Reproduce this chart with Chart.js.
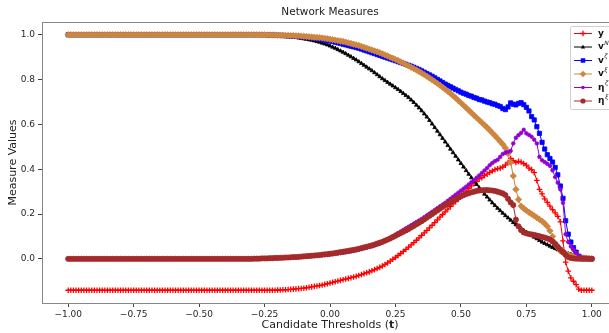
<!DOCTYPE html>
<html>
<head>
<meta charset="utf-8">
<script src="https://cdn.jsdelivr.net/npm/chart.js@4.4.1/dist/chart.umd.min.js"></script>
<style>
  html, body { margin: 0; padding: 0; background: #fff; overflow: hidden; }
  #wrap { width: 630px; height: 333px; }
</style>
</head>
<body>
<div id="wrap"><canvas id="IDCHART" width="630" height="333"></canvas></div>
<script>
// candidate thresholds t
var thresholds = [
  -1.00,-0.99,-0.98,-0.97,-0.96,-0.95,-0.94,-0.93,-0.92,-0.91,
  -0.90,-0.89,-0.88,-0.87,-0.86,-0.85,-0.84,-0.83,-0.82,-0.81,
  -0.80,-0.79,-0.78,-0.77,-0.76,-0.75,-0.74,-0.73,-0.72,-0.71,
  -0.70,-0.69,-0.68,-0.67,-0.66,-0.65,-0.64,-0.63,-0.62,-0.61,
  -0.60,-0.59,-0.58,-0.57,-0.56,-0.55,-0.54,-0.53,-0.52,-0.51,
  -0.50,-0.49,-0.48,-0.47,-0.46,-0.45,-0.44,-0.43,-0.42,-0.41,
  -0.40,-0.39,-0.38,-0.37,-0.36,-0.35,-0.34,-0.33,-0.32,-0.31,
  -0.30,-0.29,-0.28,-0.27,-0.26,-0.25,-0.24,-0.23,-0.22,-0.21,
  -0.20,-0.19,-0.18,-0.17,-0.16,-0.15,-0.14,-0.13,-0.12,-0.11,
  -0.10,-0.09,-0.08,-0.07,-0.06,-0.05,-0.04,-0.03,-0.02,-0.01,
  0.00,0.01,0.02,0.03,0.04,0.05,0.06,0.07,0.08,0.09,
  0.10,0.11,0.12,0.13,0.14,0.15,0.16,0.17,0.18,0.19,
  0.20,0.21,0.22,0.23,0.24,0.25,0.26,0.27,0.28,0.29,
  0.30,0.31,0.32,0.33,0.34,0.35,0.36,0.37,0.38,0.39,
  0.40,0.41,0.42,0.43,0.44,0.45,0.46,0.47,0.48,0.49,
  0.50,0.51,0.52,0.53,0.54,0.55,0.56,0.57,0.58,0.59,
  0.60,0.61,0.62,0.63,0.64,0.65,0.66,0.67,0.68,0.69,
  0.70,0.71,0.72,0.73,0.74,0.75,0.76,0.77,0.78,0.79,
  0.80,0.81,0.82,0.83,0.84,0.85,0.86,0.87,0.88,0.89,
  0.90,0.91,0.92,0.93,0.94,0.95,0.96,0.97,0.98,0.99,
  1.00
];

var y_vals = [
  -0.14,-0.14,-0.14,-0.14,-0.14,-0.14,-0.14,-0.14,-0.14,-0.14,
  -0.14,-0.14,-0.14,-0.14,-0.14,-0.14,-0.14,-0.14,-0.14,-0.14,
  -0.14,-0.14,-0.14,-0.14,-0.14,-0.14,-0.14,-0.14,-0.14,-0.14,
  -0.14,-0.14,-0.14,-0.14,-0.14,-0.14,-0.14,-0.14,-0.14,-0.14,
  -0.14,-0.14,-0.14,-0.14,-0.14,-0.14,-0.14,-0.14,-0.14,-0.14,
  -0.14,-0.14,-0.14,-0.14,-0.14,-0.14,-0.14,-0.14,-0.14,-0.14,
  -0.14,-0.14,-0.14,-0.14,-0.14,-0.14,-0.14,-0.14,-0.14,-0.14,
  -0.14,-0.14,-0.14,-0.14,-0.14,-0.14,-0.14,-0.14,-0.14,-0.14,
  -0.139,-0.139,-0.138,-0.138,-0.137,-0.136,-0.135,-0.134,-0.133,-0.132,
  -0.131,-0.129,-0.127,-0.125,-0.123,-0.121,-0.119,-0.117,-0.114,-0.111,
  -0.108,-0.105,-0.102,-0.099,-0.096,-0.093,-0.090,-0.087,-0.084,-0.081,
  -0.078,-0.074,-0.070,-0.066,-0.062,-0.058,-0.053,-0.048,-0.043,-0.038,
  -0.032,-0.025,-0.018,-0.010,-0.002,0.006,0.015,0.024,0.033,0.042,
  0.052,0.062,0.072,0.083,0.094,0.105,0.116,0.127,0.138,0.150,
  0.162,0.174,0.186,0.198,0.210,0.222,0.234,0.245,0.256,0.266,
  0.280,0.292,0.302,0.315,0.326,0.337,0.345,0.357,0.362,0.372,
  0.378,0.386,0.392,0.398,0.402,0.405,0.410,0.418,0.430,0.448,
  0.438,0.430,0.435,0.432,0.425,0.418,0.405,0.398,0.385,0.350,
  0.310,0.290,0.268,0.252,0.235,0.220,0.205,0.190,0.165,0.080,
  -0.015,-0.055,-0.085,-0.100,-0.115,-0.135,-0.140,-0.140,-0.140,-0.140,
  -0.140
];

var vN_vals = [
  1,1,1,1,1,1,1,1,1,1,
  1,1,1,1,1,1,1,1,1,1,
  1,1,1,1,1,1,1,1,1,1,
  1,1,1,1,1,1,1,1,1,1,
  1,1,1,1,1,1,1,1,1,1,
  1,1,1,1,1,1,1,1,1,1,
  1,1,1,1,1,1,1,1,1,1,
  0.999,0.999,0.999,0.998,0.998,0.998,0.997,0.997,0.996,0.996,
  0.995,0.994,0.993,0.992,0.991,0.990,0.989,0.988,0.986,0.984,
  0.982,0.980,0.978,0.976,0.973,0.970,0.967,0.963,0.959,0.955,
  0.950,0.945,0.940,0.934,0.928,0.922,0.916,0.909,0.902,0.895,
  0.888,0.880,0.872,0.864,0.856,0.848,0.840,0.831,0.822,0.813,
  0.804,0.796,0.788,0.780,0.772,0.764,0.756,0.747,0.738,0.729,
  0.720,0.709,0.698,0.686,0.674,0.661,0.647,0.633,0.618,0.602,
  0.586,0.570,0.554,0.538,0.522,0.506,0.490,0.474,0.458,0.442,
  0.426,0.410,0.394,0.378,0.362,0.347,0.332,0.317,0.303,0.289,
  0.276,0.263,0.250,0.238,0.226,0.215,0.204,0.193,0.183,0.173,
  0.162,0.153,0.144,0.135,0.127,0.119,0.111,0.104,0.097,0.090,
  0.082,0.075,0.069,0.063,0.057,0.051,0.046,0.041,0.036,0.032,
  0.028,0.024,0.021,0.018,0.015,0.012,0.009,0.007,0.005,0.003,
  0.000
];

var vZeta_vals = [
  1,1,1,1,1,1,1,1,1,1,
  1,1,1,1,1,1,1,1,1,1,
  1,1,1,1,1,1,1,1,1,1,
  1,1,1,1,1,1,1,1,1,1,
  1,1,1,1,1,1,1,1,1,1,
  1,1,1,1,1,1,1,1,1,1,
  1,1,1,1,1,1,1,1,1,1,
  1,1,1,1,1,1,0.999,0.999,0.999,0.998,
  0.998,0.997,0.997,0.996,0.995,0.995,0.994,0.993,0.992,0.991,
  0.990,0.989,0.987,0.986,0.984,0.982,0.980,0.978,0.976,0.974,
  0.972,0.970,0.967,0.964,0.961,0.958,0.955,0.952,0.949,0.946,
  0.943,0.940,0.936,0.932,0.928,0.924,0.920,0.916,0.912,0.908,
  0.904,0.900,0.896,0.892,0.888,0.884,0.880,0.876,0.872,0.868,
  0.864,0.860,0.855,0.850,0.845,0.839,0.833,0.827,0.821,0.815,
  0.808,0.801,0.794,0.787,0.780,0.774,0.768,0.762,0.756,0.750,
  0.744,0.739,0.735,0.729,0.726,0.720,0.717,0.711,0.709,0.704,
  0.700,0.697,0.692,0.690,0.684,0.680,0.671,0.666,0.678,0.696,
  0.690,0.687,0.694,0.697,0.688,0.676,0.660,0.635,0.620,0.590,
  0.560,0.520,0.490,0.465,0.448,0.432,0.408,0.375,0.325,0.270,
  0.170,0.110,0.075,0.050,0.030,0.012,0.006,0.003,0.002,0.001,
  0.000
];

var vXi_vals = [
  1,1,1,1,1,1,1,1,1,1,
  1,1,1,1,1,1,1,1,1,1,
  1,1,1,1,1,1,1,1,1,1,
  1,1,1,1,1,1,1,1,1,1,
  1,1,1,1,1,1,1,1,1,1,
  1,1,1,1,1,1,1,1,1,1,
  1,1,1,1,1,1,1,1,1,1,
  1,1,1,1,1,1,0.999,0.999,0.999,0.999,
  0.998,0.998,0.998,0.997,0.997,0.996,0.996,0.995,0.995,0.994,
  0.993,0.992,0.991,0.990,0.989,0.988,0.987,0.986,0.984,0.982,
  0.980,0.978,0.976,0.974,0.972,0.970,0.967,0.964,0.961,0.958,
  0.955,0.952,0.948,0.944,0.940,0.936,0.932,0.928,0.924,0.920,
  0.915,0.910,0.905,0.900,0.895,0.890,0.885,0.879,0.873,0.867,
  0.861,0.855,0.849,0.843,0.836,0.829,0.822,0.815,0.807,0.799,
  0.791,0.783,0.775,0.766,0.757,0.748,0.738,0.728,0.718,0.707,
  0.696,0.685,0.674,0.663,0.652,0.641,0.630,0.619,0.608,0.597,
  0.586,0.574,0.562,0.550,0.537,0.524,0.511,0.495,0.470,0.430,
  0.370,0.310,0.265,0.235,0.225,0.216,0.208,0.200,0.192,0.184,
  0.176,0.168,0.158,0.145,0.125,0.100,0.070,0.050,0.035,0.027,
  0.022,0.018,0.014,0.011,0.009,0.007,0.005,0.004,0.003,0.002,
  0.001
];

var etaZeta_vals = [
  0,0,0,0,0,0,0,0,0,0,
  0,0,0,0,0,0,0,0,0,0,
  0,0,0,0,0,0,0,0,0,0,
  0,0,0,0,0,0,0,0,0,0,
  0,0,0,0,0,0,0,0,0,0,
  0,0,0,0,0,0,0,0,0,0,
  0,0,0,0,0,0,0,0,0,0,
  0.000,0.000,0.001,0.001,0.001,0.001,0.002,0.002,0.002,0.003,
  0.003,0.003,0.004,0.004,0.005,0.005,0.006,0.006,0.007,0.008,
  0.009,0.010,0.011,0.012,0.013,0.014,0.015,0.016,0.017,0.018,
  0.020,0.021,0.023,0.024,0.026,0.027,0.029,0.031,0.033,0.035,
  0.038,0.041,0.044,0.047,0.050,0.053,0.056,0.060,0.064,0.068,
  0.074,0.080,0.087,0.094,0.101,0.108,0.115,0.122,0.129,0.136,
  0.143,0.150,0.157,0.164,0.171,0.178,0.186,0.194,0.202,0.210,
  0.218,0.226,0.234,0.242,0.250,0.259,0.268,0.277,0.286,0.295,
  0.304,0.313,0.322,0.332,0.342,0.352,0.362,0.372,0.383,0.394,
  0.405,0.418,0.428,0.436,0.442,0.455,0.468,0.474,0.478,0.482,
  0.515,0.540,0.552,0.562,0.576,0.560,0.553,0.545,0.532,0.515,
  0.455,0.440,0.432,0.424,0.415,0.395,0.365,0.340,0.310,0.250,
  0.110,0.075,0.055,0.040,0.027,0.012,0.006,0.003,0.002,0.001,
  0.000
];

var etaXi_vals = [
  0,0,0,0,0,0,0,0,0,0,
  0,0,0,0,0,0,0,0,0,0,
  0,0,0,0,0,0,0,0,0,0,
  0,0,0,0,0,0,0,0,0,0,
  0,0,0,0,0,0,0,0,0,0,
  0,0,0,0,0,0,0,0,0,0,
  0,0,0,0,0,0,0,0,0,0,
  0.000,0.001,0.001,0.001,0.002,0.002,0.002,0.003,0.003,0.004,
  0.004,0.005,0.005,0.006,0.006,0.007,0.008,0.008,0.009,0.010,
  0.011,0.012,0.013,0.014,0.015,0.016,0.017,0.019,0.020,0.021,
  0.023,0.024,0.026,0.028,0.030,0.032,0.034,0.036,0.038,0.040,
  0.042,0.045,0.048,0.051,0.054,0.057,0.060,0.064,0.068,0.072,
  0.076,0.081,0.086,0.091,0.097,0.103,0.109,0.115,0.121,0.127,
  0.133,0.140,0.147,0.154,0.161,0.168,0.176,0.184,0.192,0.200,
  0.208,0.216,0.224,0.232,0.240,0.247,0.254,0.261,0.267,0.273,
  0.279,0.284,0.289,0.293,0.297,0.300,0.303,0.305,0.306,0.307,
  0.307,0.306,0.305,0.303,0.300,0.296,0.292,0.285,0.268,0.252,
  0.240,0.175,0.145,0.128,0.118,0.114,0.111,0.109,0.107,0.104,
  0.101,0.098,0.095,0.091,0.086,0.078,0.066,0.054,0.042,0.030,
  0.018,0.008,0.004,0.002,0.001,0.001,0.000,0.000,0.000,0.000,
  0.000
];

var x_ticks = [-1.00, -0.75, -0.50, -0.25, 0.00, 0.25, 0.50, 0.75, 1.00];
var y_ticks = [0.0, 0.2, 0.4, 0.6, 0.8, 1.0];

// legend labels: base letter + superscript
var series_names = [
  { base: 'y',  sup: '' },
  { base: 'v',  sup: 'N', sub: 't' },
  { base: 'v',  sup: '\u03B6' },
  { base: 'v',  sup: '\u03BE' },
  { base: '\u03B7', sup: '\u03B6' },
  { base: '\u03B7', sup: '\u03BE' }
];

var FONT = '"DejaVu Sans", sans-serif';

function tickText(v, d) {
  return Number(v).toFixed(d).replace('-', '\u2212');
}

function makePoints(vals) {
  var pts = [];
  for (var i = 0; i < thresholds.length; i++) {
    pts.push({ x: thresholds[i], y: vals[i] });
  }
  return pts;
}

var styles = [
  { color: '#ff0000', marker: 'cross',    r: 2.8, bw: 1.3, order: 6 },
  { color: '#000000', marker: 'triangle', r: 2.2, bw: 0.8, order: 5 },
  { color: '#0000ff', marker: 'rect',     r: 3,   bw: 0.8, order: 4 },
  { color: '#cd853f', marker: 'rectRot',  r: 3.2, bw: 0.8, order: 3 },
  { color: '#9400d3', marker: 'circle',   r: 1.8, bw: 0.8, order: 2 },
  { color: '#a52a2a', marker: 'circle',   r: 2.6, bw: 0.8, order: 1 }
];
var all_vals = [y_vals, vN_vals, vZeta_vals, vXi_vals, etaZeta_vals, etaXi_vals];

var datasets = [];
for (var k = 0; k < all_vals.length; k++) {
  var st = styles[k];
  datasets.push({
    label: series_names[k].base + series_names[k].sup,
    data: makePoints(all_vals[k]),
    borderColor: st.color,
    backgroundColor: st.color,
    borderWidth: 1,
    pointStyle: st.marker,
    pointRadius: st.r,
    pointBorderWidth: st.bw,
    pointBackgroundColor: st.color,
    pointBorderColor: st.color,
    tension: 0,
    order: st.order
  });
}

function drawMarker(ctx, st, x, y) {
  var r = st.r;
  ctx.save();
  ctx.fillStyle = st.color;
  ctx.strokeStyle = st.color;
  ctx.lineWidth = st.bw;
  ctx.beginPath();
  if (st.marker === 'cross') {
    ctx.moveTo(x - r, y); ctx.lineTo(x + r, y);
    ctx.moveTo(x, y - r); ctx.lineTo(x, y + r);
    ctx.stroke();
  } else if (st.marker === 'triangle') {
    ctx.moveTo(x, y - r); ctx.lineTo(x + r, y + r * 0.7); ctx.lineTo(x - r, y + r * 0.7);
    ctx.closePath(); ctx.fill();
  } else if (st.marker === 'rect') {
    var s = r * 0.75;
    ctx.rect(x - s, y - s, 2 * s, 2 * s); ctx.fill();
  } else if (st.marker === 'rectRot') {
    ctx.moveTo(x, y - r); ctx.lineTo(x + r, y); ctx.lineTo(x, y + r); ctx.lineTo(x - r, y);
    ctx.closePath(); ctx.fill();
  } else {
    ctx.arc(x, y, r, 0, Math.PI * 2); ctx.fill();
  }
  ctx.restore();
}

var decorPlugin = {
  id: 'decor',
  afterDraw: function (chart) {
    var ctx = chart.ctx;
    var a = chart.chartArea;
    ctx.save();

    // top / right spines
    ctx.strokeStyle = '#888';
    ctx.lineWidth = 1;
    ctx.beginPath();
    ctx.moveTo(a.left, a.top + 0.5); ctx.lineTo(a.right, a.top + 0.5);
    ctx.moveTo(a.right + 0.5, a.top); ctx.lineTo(a.right + 0.5, a.bottom);
    ctx.stroke();

    var cx = (a.left + a.right) / 2;
    ctx.fillStyle = '#222';
    ctx.textBaseline = 'middle';

    // title
    ctx.textAlign = 'center';
    ctx.font = '10.5px ' + FONT;
    ctx.fillText('Network Measures', cx, 12);

    // x label with bold t
    var p1 = 'Candidate Thresholds (', p2 = 't', p3 = ')';
    var fs = 11;
    ctx.font = fs + 'px ' + FONT;
    var w1 = ctx.measureText(p1).width, w3 = ctx.measureText(p3).width;
    ctx.font = 'bold ' + fs + 'px ' + FONT;
    var w2 = ctx.measureText(p2).width;
    var sx = cx - (w1 + w2 + w3) / 2;
    ctx.textAlign = 'left';
    ctx.font = fs + 'px ' + FONT;
    ctx.fillText(p1, sx, 325);
    ctx.font = 'bold ' + fs + 'px ' + FONT;
    ctx.fillText(p2, sx + w1, 325);
    ctx.font = fs + 'px ' + FONT;
    ctx.fillText(p3, sx + w1 + w2, 325);

    // y label
    ctx.save();
    ctx.translate(13, (a.top + a.bottom) / 2);
    ctx.rotate(-Math.PI / 2);
    ctx.textAlign = 'center';
    ctx.fillText('Measure Values', 0, 0);
    ctx.restore();

    // legend
    var lx = 570, ly = 26, lw = 44, lh = 83;
    ctx.fillStyle = 'rgba(255,255,255,0.8)';
    ctx.strokeStyle = '#d0d0d0';
    ctx.lineWidth = 1;
    ctx.beginPath();
    ctx.roundRect(lx + 0.5, ly + 0.5, lw, lh, 2);
    ctx.fill();
    ctx.stroke();

    for (var i = 0; i < series_names.length; i++) {
      var st = styles[i];
      var yy = 33.5 + i * 13.5;
      ctx.strokeStyle = st.color;
      ctx.lineWidth = 1;
      ctx.beginPath();
      ctx.moveTo(574, yy); ctx.lineTo(592, yy);
      ctx.stroke();
      drawMarker(ctx, st, 583, yy);

      var nm = series_names[i];
      ctx.fillStyle = '#111';
      ctx.textAlign = 'left';
      ctx.font = 'bold 9px ' + FONT;
      ctx.fillText(nm.base, 598, yy);
      var bw = ctx.measureText(nm.base).width;
      if (nm.sup) {
        ctx.font = 'italic 6px ' + FONT;
        ctx.fillText(nm.sup, 598 + bw + 0.5, yy - 4);
        if (nm.sub) {
          var sw = ctx.measureText(nm.sup).width;
          ctx.font = 'italic 4.5px ' + FONT;
          ctx.fillText(nm.sub, 598 + bw + 0.5 + sw, yy - 2.5);
        }
      }
    }
    ctx.restore();
  }
};

new Chart(document.getElementById('IDCHART'), {
  type: 'line',
  data: { datasets: datasets },
  options: {
    responsive: false,
    animation: false,
    devicePixelRatio: 1,
    layout: { padding: { left: 0, right: 12, top: 22, bottom: 0 } },
    plugins: {
      legend: { display: false },
      title: { display: false },
      tooltip: { enabled: false }
    },
    scales: {
      x: {
        type: 'linear',
        min: -1.1,
        max: 1.1,
        afterBuildTicks: function (scale) {
          scale.ticks = x_ticks.map(function (v) { return { value: v }; });
        },
        afterFit: function (scale) { scale.height = 30; },
        ticks: {
          callback: function (v) { return tickText(v, 2); },
          font: { family: FONT, size: 9 },
          color: '#262626',
          padding: 2,
          maxRotation: 0,
          autoSkip: false
        },
        grid: { drawOnChartArea: false, drawTicks: true, tickLength: 4, tickColor: '#444' },
        border: { display: true, color: '#888', width: 1 }
      },
      y: {
        type: 'linear',
        min: -0.197,
        max: 1.057,
        afterBuildTicks: function (scale) {
          scale.ticks = y_ticks.map(function (v) { return { value: v }; });
        },
        afterFit: function (scale) { scale.width = 42; },
        ticks: {
          callback: function (v) { return tickText(v, 1); },
          font: { family: FONT, size: 9 },
          color: '#262626',
          padding: 3,
          autoSkip: false
        },
        grid: { drawOnChartArea: false, drawTicks: true, tickLength: 4, tickColor: '#444' },
        border: { display: true, color: '#888', width: 1 }
      }
    }
  },
  plugins: [decorPlugin]
});
</script>
</body>
</html>
